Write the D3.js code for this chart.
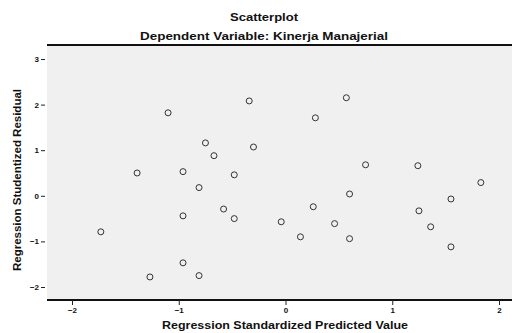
<!DOCTYPE html>
<html><head><meta charset="utf-8">
<script src="https://cdn.jsdelivr.net/npm/d3@7"></script>
<style>body{margin:0;background:#fff}svg{display:block}text{font-family:"Liberation Sans",Arial,sans-serif;font-weight:bold;fill:#111}</style>
</head><body>
<svg id="c" width="512" height="333"></svg>
<script>
const predicted = [-1.27,-0.96,-0.81,-1.73,-0.96,-1.39,-0.96,-0.81,-0.58,-0.48,-0.48,-0.75,-0.67,-0.30,-1.10,-0.34,0.28,0.57,0.75,0.60,0.26,-0.04,0.14,0.46,0.60,1.24,1.25,1.36,1.55,1.55,1.83];
const residual  = [-1.78,-1.47,-1.75,-0.79,-0.44,0.50,0.53,0.18,-0.29,-0.50,0.46,1.16,0.88,1.07,1.82,2.08,1.71,2.15,0.68,0.04,-0.24,-0.57,-0.90,-0.61,-0.94,0.66,-0.33,-0.68,-0.07,-1.12,0.29];
const xTicks = [-2,-1,0,1,2];
const yTicks = [-2,-1,0,1,2,3];
const titleText = "Scatterplot";
const subtitleText = "Dependent Variable: Kinerja Manajerial";
const xLabel = "Regression Standardized Predicted Value";
const yLabel = "Regression Studentized Residual";

const svg = d3.select("#c");
const L = 47, R = 512, T = 45, B = 300;
const x = d3.scaleLinear().domain([-2,2]).range([72,499]);
const y = d3.scaleLinear().domain([-2,3]).range([287,59]);

svg.append("rect").attr("x",L).attr("y",T).attr("width",R-L).attr("height",B-T).attr("fill","#f0f0f0");
svg.append("line").attr("x1",L).attr("x2",R).attr("y1",T).attr("y2",T).attr("stroke","#111").attr("stroke-width",2);
svg.append("line").attr("x1",L).attr("x2",R).attr("y1",B).attr("y2",B).attr("stroke","#111").attr("stroke-width",2);

// x axis
const xa = svg.append("g").attr("transform",`translate(0,${B})`)
  .call(d3.axisBottom(x).tickValues(xTicks).tickSize(5).tickPadding(2).tickFormat(d3.format("d")));
xa.select(".domain").remove();
xa.selectAll("line").attr("stroke","#222");
xa.selectAll("text").style("font-size","8px").style("font-family","Liberation Sans, Arial, sans-serif").style("font-weight","bold").attr("fill","#222");

// y axis
const ya = svg.append("g").attr("transform",`translate(${L-2},0)`)
  .call(d3.axisLeft(y).tickValues(yTicks).tickSize(4).tickPadding(2).tickFormat(d3.format("d")));
ya.select(".domain").remove();
ya.selectAll("line").attr("stroke","#222");
ya.selectAll("text").style("font-size","8px").style("font-family","Liberation Sans, Arial, sans-serif").style("font-weight","bold").attr("fill","#222");

// points
svg.append("g").selectAll("circle").data(predicted.map((p,i)=>[p,residual[i]])).join("circle")
  .attr("cx",d=>x(d[0])).attr("cy",d=>y(d[1])).attr("r",3)
  .attr("fill","none").attr("stroke","#333").attr("stroke-width",1);

// titles
svg.append("text").attr("x",264).attr("y",21).attr("text-anchor","middle").style("font-size","10px")
  .attr("textLength",68).attr("lengthAdjust","spacingAndGlyphs").text(titleText);
svg.append("text").attr("x",264).attr("y",40).attr("text-anchor","middle").style("font-size","10px")
  .attr("textLength",248).attr("lengthAdjust","spacingAndGlyphs").text(subtitleText);
svg.append("text").attr("x",285).attr("y",329).attr("text-anchor","middle").style("font-size","10px")
  .attr("textLength",246).attr("lengthAdjust","spacingAndGlyphs").text(xLabel);
svg.append("text").attr("transform","translate(21,180) rotate(-90)").attr("text-anchor","middle").style("font-size","10px")
  .attr("textLength",182).attr("lengthAdjust","spacingAndGlyphs").text(yLabel);
</script>
</body></html>
